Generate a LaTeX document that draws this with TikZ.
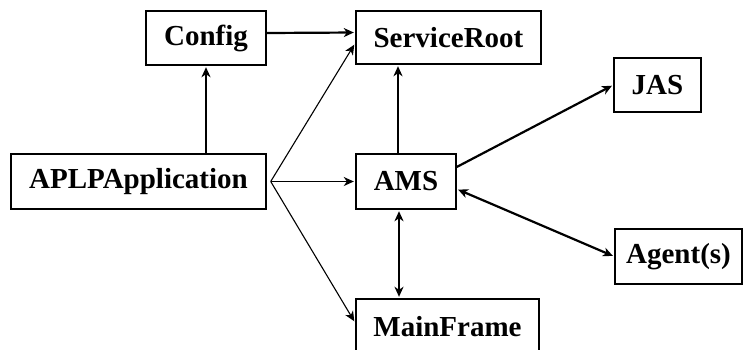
\documentclass[tikz,border=0pt]{standalone}
\usepackage{fontspec}
\setmainfont{Liberation Serif}
\usetikzlibrary{arrows.meta}
\begin{document}
\begin{tikzpicture}[x=1pt,y=-1pt,
  box/.style={draw,line width=1.4pt,inner sep=0pt,font=\bfseries\fontsize{29}{32}\selectfont},
  tip/.style={},
  thk/.style={line width=2.2pt,-{Stealth[length=10pt,width=9pt,inset=3pt]},shorten >=1.5pt},
  thn/.style={line width=1.1pt,-{Stealth[length=10pt,width=9pt,inset=3pt]},shorten >=2pt},
  both/.style={line width=2.2pt,{Stealth[length=10pt,width=9pt,inset=3pt]}-{Stealth[length=10pt,width=9pt,inset=3pt]},shorten >=1.5pt,shorten <=1.5pt}]
\clip (0,0) rectangle (743,349);
\useasboundingbox (0,0) rectangle (743,349);
\node[box,minimum width=120pt,minimum height=54pt] (cfg) at (206,38) {Config};
\node[box,minimum width=185pt,minimum height=53pt] (sr) at (448.5,37.5) {ServiceRoot};
\node[box,minimum width=87pt,minimum height=54pt] (jas) at (657.5,85) {JAS};
\node[box,minimum width=255pt,minimum height=55pt] (app) at (138.5,181.5) {APLPApplication};
\node[box,minimum width=100pt,minimum height=55pt] (ams) at (406,181.5) {AMS};
\node[box,minimum width=127pt,minimum height=55pt] (agt) at (678.5,256.5) {Agent(s)};
\node[box,minimum width=183pt,minimum height=55pt] (mf) at (447.5,326.5) {MainFrame};
\coordinate (fan) at ([xshift=4pt]app.east);
% connectors
\draw[thk] ([yshift=5pt]cfg.east) -- ([yshift=5pt]sr.west);
\draw[thk] (app.north -| cfg.south) -- (cfg.south);
\draw[thn] (fan) -- ([yshift=-5.5pt]sr.west);
\draw[thk,line width=1.6pt] (fan) -- (ams.west);
\draw[thn] (fan) -- ([yshift=3.5pt]mf.west);
\draw[thk] ([xshift=-8pt]ams.north) -- ([xshift=-8pt]ams.north |- sr.south);
\draw[thk] ([yshift=14.5pt]ams.east) -- (jas.west);
\draw[both] ([yshift=-7.5pt]ams.east) -- (agt.west);
\draw[both] ([xshift=-7pt]ams.south) -- ([xshift=-7pt]ams.south |- mf.north);
\end{tikzpicture}
\end{document}
